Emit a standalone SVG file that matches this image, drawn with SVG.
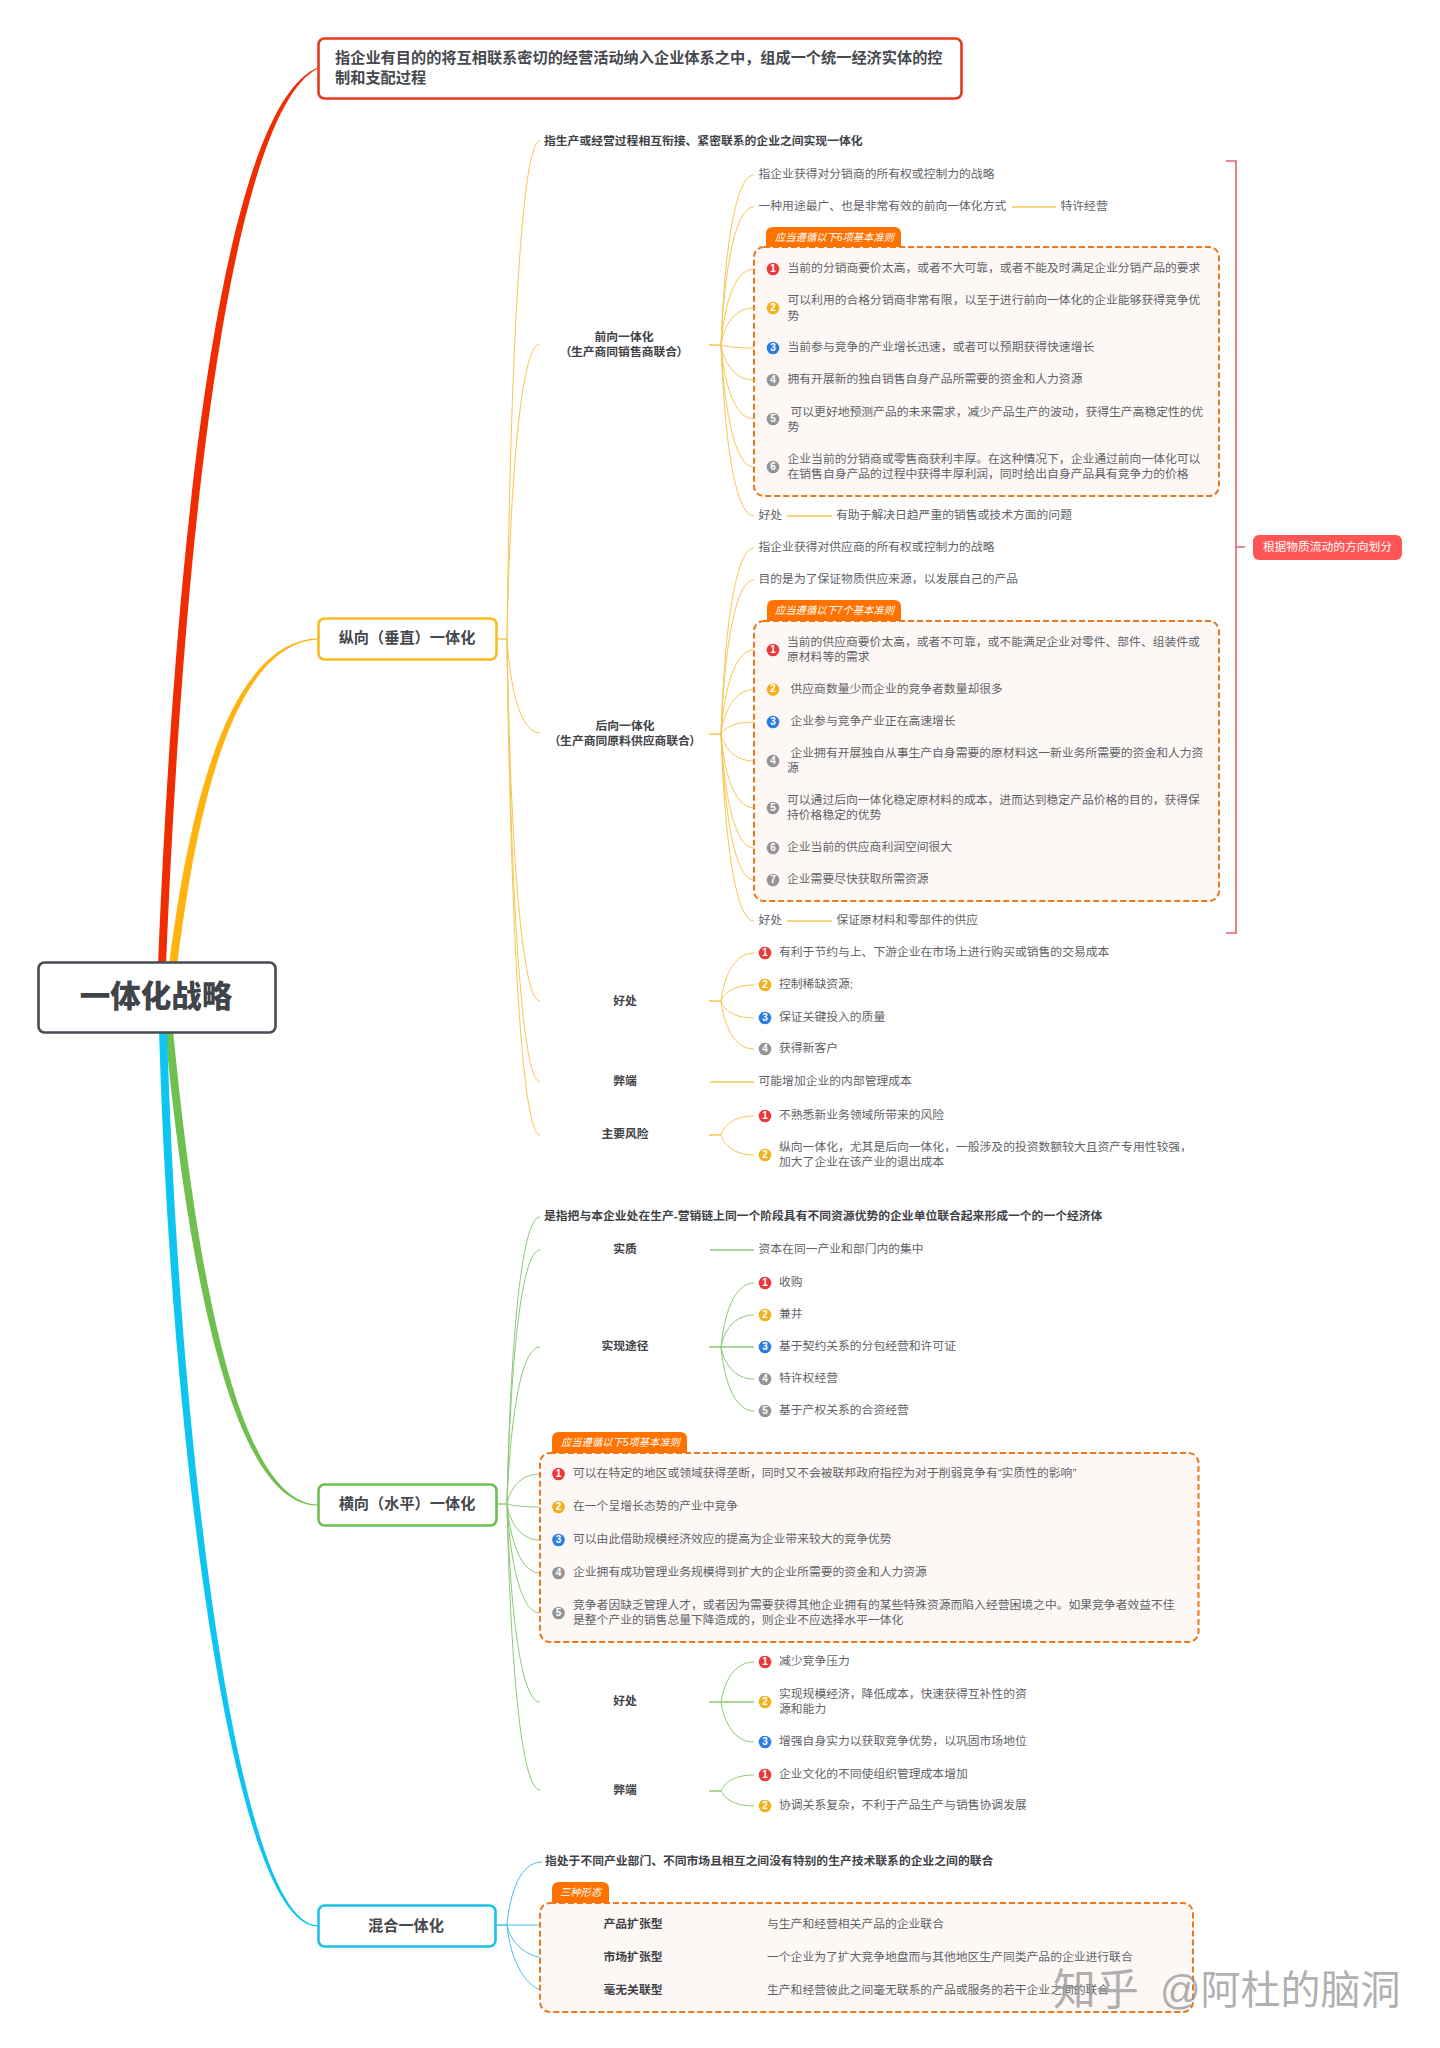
<svg xmlns="http://www.w3.org/2000/svg" width="1440" height="2048" viewBox="0 0 1440 2048">
<style>
text{font-family:"Liberation Sans","Noto Sans CJK SC",sans-serif;dominant-baseline:central;transform:translateY(-0.8px)}
.t{font-size:11.8px;fill:#5f6367}
.b{font-size:11.8px;font-weight:700;fill:#3f4347}
.c{text-anchor:middle}
.p{font-feature-settings:"palt"}
.w{font-size:11.75px;fill:#fff}
.i{font-size:10.3px;fill:#fff;font-style:italic}
.h{font-size:15.2px;font-weight:700;fill:#45494e}
.r{font-size:30.5px;font-weight:900;fill:#3f444b}
.n{font-size:10px;font-weight:700;fill:#fff;text-anchor:middle}
.k1{fill:#ea3a3a}.k2{fill:#f2b01e}.k3{fill:#2b7de0}.k4{fill:#949494}
.box{fill:#fff;stroke-width:2.6px}
.dash{fill:#fdf8f6;stroke:#e9781f;stroke-width:2px;stroke-dasharray:6 3}
.tab{fill:#ff7200}
.cy,.cg,.cc{fill:none;stroke-width:1px}
.cy{stroke:#f5c654}.cg{stroke:#8dc878}.cc{stroke:#45c6de}
.s{stroke-width:1.5px}
.s2{stroke:#a8dde4;stroke-width:1.5px;fill:none}
.br{fill:none;stroke:#e0636e;stroke-width:1.6px}
.wm{font-size:43px;fill:#969696;fill-opacity:.75}
.wm2{font-size:40px;fill:#969696;fill-opacity:.75}
</style>
<rect width="1440" height="2048" fill="#fff"/>
<g id="connectors">
<path fill="#f02d00" d="M158,966C181,400 240,99 318,67.5L318,68.500C248,102 189,400 166,966Z"/>
<path fill="#ffb30f" d="M169,966C186,830 223,641 318,638.500L318,639.500C228,644 194,830 177,966Z"/>
<path fill="#6fc04f" d="M165,1030C191,1300 238,1506.500 318,1505.500L318,1504.500C243,1503.500 199,1300 173,1030Z"/>
<path fill="#0ec4f0" d="M159,1030C171,1450 233,1927.500 318,1926.500L318,1925.500C238,1924.500 179,1450 167,1030Z"/>
<path class="cy s" d="M497,639H507M709,345H721M709,734H721M709,1001H721M709,1135H721M710,1082H754M1012,207H1056M787,516H832M787,921H832"/>
<path class="cy" d="M507,639C510,390 520,141 540,141M507,639C510,491 520,344 540,344M507,639C510,686 520,733 540,733M507,639C510,820 520,1001 540,1001M507,639C510,860 520,1082 540,1082M507,639C510,887 520,1135 540,1135"/>
<path class="cy" d="M721,345C724,260 734,175 754,175M721,345C724,276 734,207 754,207M721,345C724,307 734,269 754,269H765M721,345C724,326 734,308 754,308H765M721,345C724,346 734,348 754,348H765M721,345C724,362 734,380 754,380H765M721,345C724,382 734,419 754,419H765M721,345C724,406 734,467 754,467H765M721,345C724,430 734,516 754,516"/>
<path class="cy" d="M721,734C724,641 734,548 754,548M721,734C724,657 734,580 754,580M721,734C724,692 734,650 754,650H765M721,734C724,712 734,689.500 754,689.500H765M721,734C724,728 734,722 754,722H765M721,734C724,747 734,761 754,761H765M721,734C724,771 734,808 754,808H765M721,734C724,791 734,848 754,848H765M721,734C724,807 734,880 754,880H765M721,734C724,827 734,921 754,921"/>
<path class="cy" d="M721,1001C724,977 734,953 754,953M721,1001C724,993 734,985 754,985M721,1001C724,1010 734,1018 754,1018M721,1001C724,1025 734,1049 754,1049M721,1135C724,1125 734,1116 754,1116M721,1135C724,1145 734,1155 754,1155"/>
<path class="cg s" d="M497,1504H507M710,1250H754M709,1347H754M709,1702H754M709,1791H721"/>
<path class="cg" d="M507,1504C510,1360 520,1217 540,1217M507,1504C510,1377 520,1250 540,1250M507,1504C510,1425 520,1347 540,1347M507,1504C510,1489 520,1474 540,1474H551M507,1504C510,1505 520,1507 540,1507H551M507,1504C510,1522 520,1540 540,1540H551M507,1504C510,1538 520,1573 540,1573H551M507,1504C510,1558 520,1613 540,1613H551M507,1504C510,1603 520,1702 540,1702M507,1504C510,1647 520,1790 540,1790"/>
<path class="cg" d="M721,1347C724,1315 734,1283 754,1283M721,1347C724,1331 734,1315 754,1315M721,1347C724,1363 734,1379 754,1379M721,1347C724,1379 734,1411 754,1411M721,1702C724,1682 734,1662 754,1662M721,1702C724,1722 734,1742 754,1742M721,1791C724,1783 734,1775 754,1775M721,1791C724,1798 734,1806 754,1806"/>
<path class="cc s" d="M496,1925H507"/>
<path class="cc" d="M507,1925C510,1893 520,1862 542,1862M507,1925H548M507,1925C510,1941 525,1958 548,1958M507,1925C510,1958 525,1991 548,1991"/>
<path class="s2" d="M718,1925H762M718,1958H762M718,1991H762"/>
<path class="br" d="M1226,161H1236V933H1226M1236,547H1245"/>
</g>
<g id="root"><rect x="38.500" y="962.500" width="237" height="70" rx="6" fill="#fff" stroke="#474c54" stroke-width="2.6"/><text class="r c" x="156" y="997">一体化战略</text></g>
<g id="definition"><rect class="box" x="318.500" y="38.500" width="643" height="60" rx="6" stroke="#e63a1f"/><text class="h" x="335" y="58">指企业有目的的将互相联系密切的经营活动纳入企业体系之中，组成一个统一经济实体的控</text><text class="h" x="335" y="78">制和支配过程</text></g>
<g id="vertical"><rect class="box" x="318.500" y="618.500" width="178" height="41" rx="6" stroke="#f9bb1f"/><text class="h c" x="407" y="638.500">纵向（垂直）一体化</text></g>
<g id="horizontal"><rect class="box" x="318.500" y="1484.500" width="178" height="41" rx="6" stroke="#6fbf50"/><text class="h c" x="407" y="1504.500">横向（水平）一体化</text></g>
<g id="mixed"><rect class="box" x="318.500" y="1905.500" width="177" height="41" rx="6" stroke="#1fc0e8"/><text class="h c" x="406" y="1926">混合一体化</text></g>
<g id="v-def"><text class="b" x="544" y="142">指生产或经营过程相互衔接、紧密联系的企业之间实现一体化</text></g>
<g id="forward"><text class="b c" x="624" y="338">前向一体化</text><text class="b c p" x="624" y="353">（生产商同销售商联合）</text></g>
<g id="f1"><text class="t" x="758.500" y="175">指企业获得对分销商的所有权或控制力的战略</text></g>
<g id="f2"><text class="t" x="758.500" y="207">一种用途最广、也是非常有效的前向一体化方式</text></g>
<g id="f2a"><text class="t" x="1060.500" y="207">特许经营</text></g>
<g id="f-group"><rect class="dash" x="754" y="247" width="465" height="249" rx="10"/><path class="tab" d="M766,247V234Q766,227 773,227H894Q901,227 901,234V247Z"/><text class="i" x="775" y="238">应当遵循以下6项基本准则</text></g>
<g id="f-i1"><circle class="k1" cx="773" cy="269" r="6.300"/><text class="n" x="773" y="269">1</text><text class="t" x="787.500" y="269">当前的分销商要价太高，或者不大可靠，或者不能及时满足企业分销产品的要求</text></g>
<g id="f-i2"><circle class="k2" cx="773" cy="308" r="6.300"/><text class="n" x="773" y="308">2</text><text class="t" x="787.500" y="301">可以利用的合格分销商非常有限，以至于进行前向一体化的企业能够获得竞争优</text><text class="t" x="787.500" y="316.500">势</text></g>
<g id="f-i3"><circle class="k3" cx="773" cy="348" r="6.300"/><text class="n" x="773" y="348">3</text><text class="t" x="787.500" y="348">当前参与竞争的产业增长迅速，或者可以预期获得快速增长</text></g>
<g id="f-i4"><circle class="k4" cx="773" cy="380" r="6.300"/><text class="n" x="773" y="380">4</text><text class="t" x="787.500" y="380">拥有开展新的独自销售自身产品所需要的资金和人力资源</text></g>
<g id="f-i5"><circle class="k4" cx="773" cy="419" r="6.300"/><text class="n" x="773" y="419">5</text><text class="t" x="790.500" y="412.500">可以更好地预测产品的未来需求，减少产品生产的波动，获得生产高稳定性的优</text><text class="t" x="787.500" y="427.500">势</text></g>
<g id="f-i6"><circle class="k4" cx="773" cy="467" r="6.300"/><text class="n" x="773" y="467">6</text><text class="t" x="787.500" y="460">企业当前的分销商或零售商获利丰厚。在这种情况下，企业通过前向一体化可以</text><text class="t" x="787.500" y="475">在销售自身产品的过程中获得丰厚利润，同时给出自身产品具有竞争力的价格</text></g>
<g id="f-good"><text class="t" x="758.500" y="516">好处</text></g>
<g id="f-good-a"><text class="t" x="836" y="516">有助于解决日趋严重的销售或技术方面的问题</text></g>
<g id="backward"><text class="b c" x="625" y="727">后向一体化</text><text class="b c p" x="625" y="742">（生产商同原料供应商联合）</text></g>
<g id="b1"><text class="t" x="758.500" y="548">指企业获得对供应商的所有权或控制力的战略</text></g>
<g id="b2"><text class="t" x="758.500" y="580">目的是为了保证物质供应来源，以发展自己的产品</text></g>
<g id="b-group"><rect class="dash" x="754" y="621" width="465" height="280" rx="10"/><path class="tab" d="M767,621V607Q767,600 774,600H894Q901,600 901,607V621Z"/><text class="i" x="775" y="611">应当遵循以下7个基本准则</text></g>
<g id="b-i1"><circle class="k1" cx="773" cy="650" r="6.300"/><text class="n" x="773" y="650">1</text><text class="t" x="787" y="643">当前的供应商要价太高，或者不可靠，或不能满足企业对零件、部件、组装件或</text><text class="t" x="787" y="658">原材料等的需求</text></g>
<g id="b-i2"><circle class="k2" cx="773" cy="689.500" r="6.300"/><text class="n" x="773" y="689.500">2</text><text class="t" x="790.500" y="689.500">供应商数量少而企业的竞争者数量却很多</text></g>
<g id="b-i3"><circle class="k3" cx="773" cy="722" r="6.300"/><text class="n" x="773" y="722">3</text><text class="t" x="790.500" y="722">企业参与竞争产业正在高速增长</text></g>
<g id="b-i4"><circle class="k4" cx="773" cy="761" r="6.300"/><text class="n" x="773" y="761">4</text><text class="t" x="790.500" y="754">企业拥有开展独自从事生产自身需要的原材料这一新业务所需要的资金和人力资</text><text class="t" x="787" y="769">源</text></g>
<g id="b-i5"><circle class="k4" cx="773" cy="808" r="6.300"/><text class="n" x="773" y="808">5</text><text class="t" x="787" y="801">可以通过后向一体化稳定原材料的成本，进而达到稳定产品价格的目的，获得保</text><text class="t" x="787" y="816">持价格稳定的优势</text></g>
<g id="b-i6"><circle class="k4" cx="773" cy="848" r="6.300"/><text class="n" x="773" y="848">6</text><text class="t" x="787" y="848">企业当前的供应商利润空间很大</text></g>
<g id="b-i7"><circle class="k4" cx="773" cy="880" r="6.300"/><text class="n" x="773" y="880">7</text><text class="t" x="787" y="880">企业需要尽快获取所需资源</text></g>
<g id="b-good"><text class="t" x="758.500" y="921">好处</text></g>
<g id="b-good-a"><text class="t" x="836.500" y="921">保证原材料和零部件的供应</text></g>
<g id="v-good"><text class="b c" x="625" y="1002">好处</text></g>
<g id="vg1"><circle class="k1" cx="765" cy="953" r="6.300"/><text class="n" x="765" y="953">1</text><text class="t" x="779" y="953">有利于节约与上、下游企业在市场上进行购买或销售的交易成本</text></g>
<g id="vg2"><circle class="k2" cx="765" cy="985" r="6.300"/><text class="n" x="765" y="985">2</text><text class="t" x="779" y="985">控制稀缺资源;</text></g>
<g id="vg3"><circle class="k3" cx="765" cy="1018" r="6.300"/><text class="n" x="765" y="1018">3</text><text class="t" x="779" y="1018">保证关键投入的质量</text></g>
<g id="vg4"><circle class="k4" cx="765" cy="1049" r="6.300"/><text class="n" x="765" y="1049">4</text><text class="t" x="779" y="1049">获得新客户</text></g>
<g id="v-bad"><text class="b c" x="625" y="1082">弊端</text></g>
<g id="v-bad-a"><text class="t" x="758.500" y="1082">可能增加企业的内部管理成本</text></g>
<g id="v-risk"><text class="b c" x="625" y="1135">主要风险</text></g>
<g id="vr1"><circle class="k1" cx="765" cy="1116" r="6.300"/><text class="n" x="765" y="1116">1</text><text class="t" x="779" y="1116">不熟悉新业务领域所带来的风险</text></g>
<g id="vr2"><circle class="k2" cx="765" cy="1155" r="6.300"/><text class="n" x="765" y="1155">2</text><text class="t" x="779" y="1148">纵向一体化，尤其是后向一体化，一般涉及的投资数额较大且资产专用性较强，</text><text class="t" x="779" y="1163">加大了企业在该产业的退出成本</text></g>
<g id="h-def"><text class="b" x="544" y="1217">是指把与本企业处在生产-营销链上同一个阶段具有不同资源优势的企业单位联合起来形成一个的一个经济体</text></g>
<g id="h-ess"><text class="b c" x="625" y="1250">实质</text></g>
<g id="h-ess-a"><text class="t" x="758.500" y="1250">资本在同一产业和部门内的集中</text></g>
<g id="h-way"><text class="b c" x="625" y="1347">实现途径</text></g>
<g id="hw1"><circle class="k1" cx="765" cy="1283" r="6.300"/><text class="n" x="765" y="1283">1</text><text class="t" x="779" y="1283">收购</text></g>
<g id="hw2"><circle class="k2" cx="765" cy="1315" r="6.300"/><text class="n" x="765" y="1315">2</text><text class="t" x="779" y="1315">兼并</text></g>
<g id="hw3"><circle class="k3" cx="765" cy="1347" r="6.300"/><text class="n" x="765" y="1347">3</text><text class="t" x="779" y="1347">基于契约关系的分包经营和许可证</text></g>
<g id="hw4"><circle class="k4" cx="765" cy="1379" r="6.300"/><text class="n" x="765" y="1379">4</text><text class="t" x="779" y="1379">特许权经营</text></g>
<g id="hw5"><circle class="k4" cx="765" cy="1411" r="6.300"/><text class="n" x="765" y="1411">5</text><text class="t" x="779" y="1411">基于产权关系的合资经营</text></g>
<g id="h-group"><rect class="dash" x="540" y="1453" width="658.500" height="189" rx="10"/><path class="tab" d="M552,1453V1439Q552,1432 559,1432H680Q687,1432 687,1439V1453Z"/><text class="i" x="561" y="1443">应当遵循以下5项基本准则</text></g>
<g id="h-i1"><circle class="k1" cx="558.500" cy="1474" r="6.300"/><text class="n" x="558.500" y="1474">1</text><text class="t" x="573" y="1474">可以在特定的地区或领域获得垄断，同时又不会被联邦政府指控为对于削弱竞争有“实质性的影响”</text></g>
<g id="h-i2"><circle class="k2" cx="558.500" cy="1507" r="6.300"/><text class="n" x="558.500" y="1507">2</text><text class="t" x="573" y="1507">在一个呈增长态势的产业中竞争</text></g>
<g id="h-i3"><circle class="k3" cx="558.500" cy="1540" r="6.300"/><text class="n" x="558.500" y="1540">3</text><text class="t" x="573" y="1540">可以由此借助规模经济效应的提高为企业带来较大的竞争优势</text></g>
<g id="h-i4"><circle class="k4" cx="558.500" cy="1573" r="6.300"/><text class="n" x="558.500" y="1573">4</text><text class="t" x="573" y="1573">企业拥有成功管理业务规模得到扩大的企业所需要的资金和人力资源</text></g>
<g id="h-i5"><circle class="k4" cx="558.500" cy="1613" r="6.300"/><text class="n" x="558.500" y="1613">5</text><text class="t" x="573" y="1606">竞争者因缺乏管理人才，或者因为需要获得其他企业拥有的某些特殊资源而陷入经营困境之中。如果竞争者效益不佳</text><text class="t" x="573" y="1621">是整个产业的销售总量下降造成的，则企业不应选择水平一体化</text></g>
<g id="h-good"><text class="b c" x="625" y="1702">好处</text></g>
<g id="hg1"><circle class="k1" cx="765" cy="1662" r="6.300"/><text class="n" x="765" y="1662">1</text><text class="t" x="779" y="1662">减少竞争压力</text></g>
<g id="hg2"><circle class="k2" cx="765" cy="1702" r="6.300"/><text class="n" x="765" y="1702">2</text><text class="t" x="779" y="1695">实现规模经济，降低成本，快速获得互补性的资</text><text class="t" x="779" y="1710">源和能力</text></g>
<g id="hg3"><circle class="k3" cx="765" cy="1742" r="6.300"/><text class="n" x="765" y="1742">3</text><text class="t" x="779" y="1742">增强自身实力以获取竞争优势，以巩固市场地位</text></g>
<g id="h-bad"><text class="b c" x="625" y="1791">弊端</text></g>
<g id="hb1"><circle class="k1" cx="765" cy="1775" r="6.300"/><text class="n" x="765" y="1775">1</text><text class="t" x="779" y="1775">企业文化的不同使组织管理成本增加</text></g>
<g id="hb2"><circle class="k2" cx="765" cy="1806" r="6.300"/><text class="n" x="765" y="1806">2</text><text class="t" x="779" y="1806">协调关系复杂，不利于产品生产与销售协调发展</text></g>
<g id="m-def"><text class="b" x="545" y="1862">指处于不同产业部门、不同市场且相互之间没有特别的生产技术联系的企业之间的联合</text></g>
<g id="m-group"><rect class="dash" x="540" y="1903" width="653" height="109" rx="10"/><path class="tab" d="M552,1903V1889Q552,1882 559,1882H602Q609,1882 609,1889V1903Z"/><text class="i" x="560" y="1893">三种形态</text></g>
<g id="m1"><text class="b c" x="633" y="1925">产品扩张型</text></g>
<g id="m1a"><text class="t" x="767" y="1925">与生产和经营相关产品的企业联合</text></g>
<g id="m2"><text class="b c" x="633" y="1958">市场扩张型</text></g>
<g id="m2a"><text class="t" x="767" y="1958">一个企业为了扩大竞争地盘而与其他地区生产同类产品的企业进行联合</text></g>
<g id="m3"><text class="b c" x="633" y="1991">毫无关联型</text></g>
<g id="m3a"><text class="t" x="767" y="1991">生产和经营彼此之间毫无联系的产品或服务的若干企业之间的联合</text></g>
<g id="bracket-label"><rect x="1253" y="535" width="149" height="25" rx="6" fill="#ff5555"/><text class="w c" x="1327.500" y="547.500">根据物质流动的方向划分</text></g>
<g id="watermark"><text class="wm" x="1053" y="1991">知乎</text><text class="wm2" x="1160" y="1991">@阿杜的脑洞</text></g>
</svg>
